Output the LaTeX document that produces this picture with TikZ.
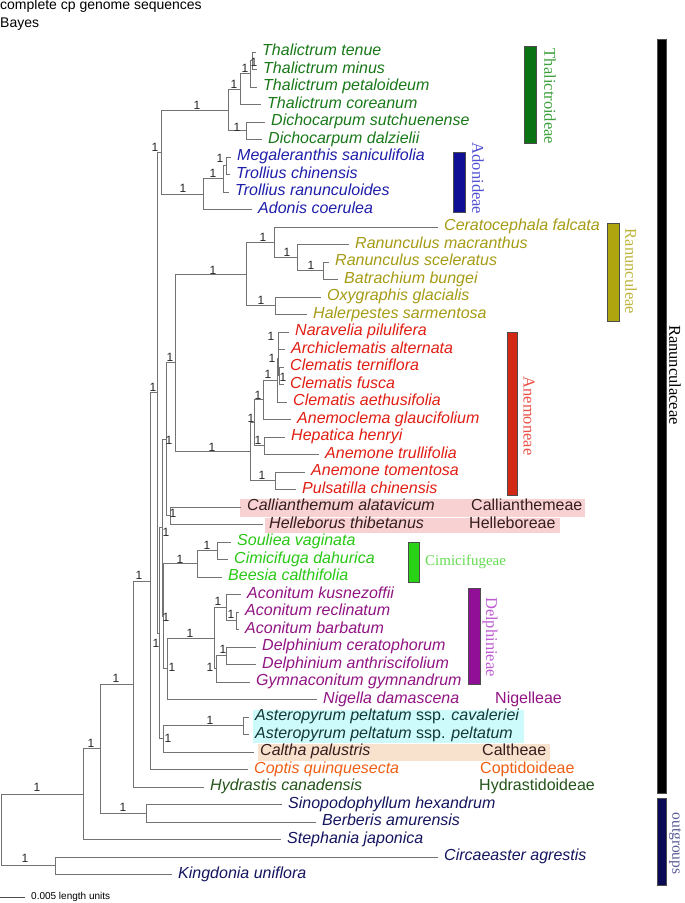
\documentclass[tikz,border=0pt]{standalone}
\usepackage{fontspec}
\setmainfont{Liberation Sans}
\newfontfamily\serifface{Liberation Serif}
\usepackage{tikz}
\usetikzlibrary{positioning}
\usepackage{xcolor}
\newcommand{\taxfont}{\fontsize{16}{16}\selectfont\itshape}
\newcommand{\grpfont}{\fontsize{16}{16}\selectfont}
\newcommand{\cladefont}{\serifface\fontsize{16.5}{16.5}\selectfont}
\definecolor{thalc}{RGB}{25,120,25}
\definecolor{adonc}{RGB}{30,30,170}
\definecolor{ranuc}{RGB}{165,155,20}
\definecolor{anemc}{RGB}{225,30,20}
\definecolor{hellc}{RGB}{55,30,30}
\definecolor{cimic}{RGB}{40,200,20}
\definecolor{delpc}{RGB}{145,20,130}
\definecolor{astec}{RGB}{20,55,55}
\definecolor{coptc}{RGB}{240,95,20}
\definecolor{hydrc}{RGB}{35,85,25}
\definecolor{outgc}{RGB}{20,20,95}

\begin{document}
\begin{tikzpicture}[x=1pt, y=-1pt,
  br/.style={draw=black!55, line width=0.9pt},
  leaf/.style={anchor=west, inner xsep=6pt, inner ysep=0pt, text height=10pt, text depth=3pt, font=\taxfont},
  grp/.style={anchor=west, inner sep=0pt, text height=10pt, text depth=3pt, font=\grpfont},
  sup/.style={inner sep=0pt, font=\fontsize{12}{12}\selectfont, text=black!85},
  bar/.style={draw=black!70, line width=0.8pt},
  clade/.style={rotate=-90, inner sep=0pt, font=\cladefont}]
\useasboundingbox (0,0) rectangle (685,903);
\node[anchor=west, inner sep=0pt, font=\fontsize{14}{14}\selectfont] (title) at (0,6) {complete cp genome sequences};
\node[anchor=west, inner sep=0pt, font=\fontsize{14}{14}\selectfont] (method) at (0,24) {Bayes};

\fill[fill={rgb,255:red,248;green,210;blue,210}] (240,498.5) rectangle (585,516.5);
\fill[fill={rgb,255:red,248;green,210;blue,210}] (265,517.5) rectangle (560,533);
\fill[fill={rgb,255:red,205;green,250;blue,250}] (253,710) rectangle (524,743);
\fill[fill={rgb,255:red,248;green,225;blue,205}] (258,744) rectangle (550,761);

\node[leaf, text=thalc] (Ttenue) at (256,52) {Thalictrum tenue};
\node[leaf, text=thalc] (Tminus) at (257,69.5) {Thalictrum minus};
\node[leaf, text=thalc] (Tpetal) at (257,87) {Thalictrum petaloideum};
\node[leaf, text=thalc] (Tcorea) at (261,104.5) {Thalictrum coreanum};
\node[leaf, text=thalc] (Dsutch) at (265,122) {Dichocarpum sutchuenense};
\node[leaf, text=thalc] (Ddalz) at (262,139.5) {Dichocarpum dalzielii};
\node[leaf, text=adonc] (Msanic) at (231,157) {Megaleranthis saniculifolia};
\node[leaf, text=adonc] (Tchin) at (230,174.5) {Trollius chinensis};
\node[leaf, text=adonc] (Tranun) at (229,192) {Trollius ranunculoides};
\node[leaf, text=adonc] (Acoer) at (252,209.5) {Adonis coerulea};
\node[leaf, text=ranuc] (Cfalc) at (438,227) {Ceratocephala falcata};
\node[leaf, text=ranuc] (Rmacr) at (349,244.5) {Ranunculus macranthus};
\node[leaf, text=ranuc] (Rscel) at (329,262) {Ranunculus sceleratus};
\node[leaf, text=ranuc] (Bbung) at (338,279.5) {Batrachium bungei};
\node[leaf, text=ranuc] (Oglac) at (321,297) {Oxygraphis glacialis};
\node[leaf, text=ranuc] (Hsarm) at (307,314.5) {Halerpestes sarmentosa};
\node[leaf, text=anemc] (Npilu) at (289,332) {Naravelia pilulifera};
\node[leaf, text=anemc] (Aalte) at (285,349.5) {Archiclematis alternata};
\node[leaf, text=anemc] (Ctern) at (284,367) {Clematis terniflora};
\node[leaf, text=anemc] (Cfusc) at (284,384.5) {Clematis fusca};
\node[leaf, text=anemc] (Caeth) at (287,402) {Clematis aethusifolia};
\node[leaf, text=anemc] (Aglau) at (291,419.5) {Anemoclema glaucifolium};
\node[leaf, text=anemc] (Hhenr) at (285,437) {Hepatica henryi};
\node[leaf, text=anemc] (Atrul) at (319,454.5) {Anemone trullifolia};
\node[leaf, text=anemc] (Atome) at (305,472) {Anemone tomentosa};
\node[leaf, text=anemc] (Pchin) at (296,489.5) {Pulsatilla chinensis};
\node[leaf, text=hellc] (Calat) at (241,507) {Callianthemum alatavicum};
\node[leaf, text=hellc] (Hthib) at (263,524.5) {Helleborus thibetanus};
\node[leaf, text=cimic] (Svagi) at (231,542) {Souliea vaginata};
\node[leaf, text=cimic] (Cdahu) at (228,559.5) {Cimicifuga dahurica};
\node[leaf, text=cimic] (Bcalt) at (222,577) {Beesia calthifolia};
\node[leaf, text=delpc] (Akusn) at (241,594.5) {Aconitum kusnezoffii};
\node[leaf, text=delpc] (Arecl) at (239,612) {Aconitum reclinatum};
\node[leaf, text=delpc] (Abarb) at (239,629.5) {Aconitum barbatum};
\node[leaf, text=delpc] (Dcera) at (256,647) {Delphinium ceratophorum};
\node[leaf, text=delpc] (Danth) at (256,664.5) {Delphinium anthriscifolium};
\node[leaf, text=delpc] (Ggymn) at (250,682) {Gymnaconitum gymnandrum};
\node[leaf, text=delpc] (Ndama) at (317,699.5) {Nigella damascena};
\node[leaf, text=astec] (Acava) at (249,717) {Asteropyrum peltatum \textup{ssp.} cavaleriei};
\node[leaf, text=astec] (Apelt) at (249,734.5) {Asteropyrum peltatum \textup{ssp.} peltatum};
\node[leaf, text=hellc] (Cpalu) at (254,752) {Caltha palustris};
\node[leaf, text=coptc] (Cquin) at (248,769.5) {Coptis quinquesecta};
\node[leaf, text=hydrc] (Hcana) at (204,787) {Hydrastis canadensis};
\node[leaf, text=outgc] (Shexa) at (282,804.5) {Sinopodophyllum hexandrum};
\node[leaf, text=outgc] (Bamur) at (316,822) {Berberis amurensis};
\node[leaf, text=outgc] (Sjapo) at (281,839.5) {Stephania japonica};
\node[leaf, text=outgc] (Cagre) at (438,857) {Circaeaster agrestis};
\node[leaf, text=outgc] (Kunif) at (172,874.5) {Kingdonia uniflora};

\coordinate (root) at (1,829.9);
\coordinate (nOut) at (55,865.75);
\coordinate (nIn) at (83,794);
\coordinate (nTwo) at (100,748.6);
\coordinate (nBerb) at (146,813.25);
\coordinate (nRanc) at (133,684);
\coordinate (nCopt) at (150,581.1);
\coordinate (nCore) at (157,392.7);
\coordinate (nThAd) at (161,152.1);
\coordinate (nThal) at (228,110);
\coordinate (nThA) at (240,89.2);
\coordinate (nTh3) at (250,73.9);
\coordinate (nTh2) at (252,60.75);
\coordinate (nDich) at (246,130.75);
\coordinate (nAdon) at (203,194.2);
\coordinate (nTrol) at (223,178.9);
\coordinate (nMeg) at (226,165.75);
\coordinate (nBack) at (159.5,633.4);
\coordinate (nQ) at (162,527.85);
\coordinate (nX) at (166,439.3);
\coordinate (nRaAn) at (175,362.9);
\coordinate (nRanu) at (246,274);
\coordinate (nU) at (274,242.3);
\coordinate (nV) at (297,257.6);
\coordinate (nW) at (323,270.75);
\coordinate (nOH) at (275,305.75);
\coordinate (nAnem) at (250,451.8);
\coordinate (nE) at (254,422.8);
\coordinate (nG) at (263,399.8);
\coordinate (nC1) at (277.5,380.1);
\coordinate (nC2) at (278,358.25);
\coordinate (nNA) at (278.5,340.75);
\coordinate (nTF) at (279,375.75);
\coordinate (nH) at (264,445.75);
\coordinate (nTP) at (275,480.75);
\coordinate (nCH) at (170,515.75);
\coordinate (nP) at (163,616.4);
\coordinate (nCimi) at (197,563.9);
\coordinate (nSC) at (217,550.75);
\coordinate (nDN) at (167,668.9);
\coordinate (nDelp) at (214,638.25);
\coordinate (nAcon) at (226,607.6);
\coordinate (nRB) at (236,620.75);
\coordinate (nDG) at (216,668.9);
\coordinate (nCA) at (226,655.75);
\coordinate (nAC) at (163,738.9);
\coordinate (nAst) at (243,725.75);

\draw[br] (root) |- (nIn) (root) |- (nOut);
\draw[br] (nOut) |- (Cagre.west) (nOut) |- (Kunif.west);
\draw[br] (nIn) |- (nTwo) (nIn) |- (Sjapo.west);
\draw[br] (nTwo) |- (nRanc) (nTwo) |- (nBerb);
\draw[br] (nBerb) |- (Shexa.west) (nBerb) |- (Bamur.west);
\draw[br] (nRanc) |- (nCopt) (nRanc) |- (Hcana.west);
\draw[br] (nCopt) |- (nCore) (nCopt) |- (Cquin.west);
\draw[br] (nCore) |- (nThAd) (nCore) |- (nBack);
\draw[br] (nThAd) |- (nThal) (nThAd) |- (nAdon);
\draw[br] (nThal) |- (nThA) (nThal) |- (nDich);
\draw[br] (nThA) |- (nTh3) (nThA) |- (Tcorea.west);
\draw[br] (nTh3) |- (nTh2) (nTh3) |- (Tpetal.west);
\draw[br] (nTh2) |- (Ttenue.west) (nTh2) |- (Tminus.west);
\draw[br] (nDich) |- (Dsutch.west) (nDich) |- (Ddalz.west);
\draw[br] (nAdon) |- (nTrol) (nAdon) |- (Acoer.west);
\draw[br] (nTrol) |- (nMeg) (nTrol) |- (Tranun.west);
\draw[br] (nMeg) |- (Msanic.west) (nMeg) |- (Tchin.west);
\draw[br] (nBack) |- (nQ) (nBack) |- (nAC);
\draw[br] (nQ) |- (nX) (nQ) |- (nP);
\draw[br] (nX) |- (nRaAn) (nX) |- (nCH);
\draw[br] (nRaAn) |- (nRanu) (nRaAn) |- (nAnem);
\draw[br] (nRanu) |- (nU) (nRanu) |- (nOH);
\draw[br] (nU) |- (Cfalc.west) (nU) |- (nV);
\draw[br] (nV) |- (Rmacr.west) (nV) |- (nW);
\draw[br] (nW) |- (Rscel.west) (nW) |- (Bbung.west);
\draw[br] (nOH) |- (Oglac.west) (nOH) |- (Hsarm.west);
\draw[br] (nAnem) |- (nE) (nAnem) |- (nTP);
\draw[br] (nE) |- (nG) (nE) |- (nH);
\draw[br] (nG) |- (nC1) (nG) |- (Aglau.west);
\draw[br] (nC1) |- (nC2) (nC1) |- (Caeth.west);
\draw[br] (nC2) |- (nNA) (nC2) |- (nTF);
\draw[br] (nNA) |- (Npilu.west) (nNA) |- (Aalte.west);
\draw[br] (nTF) |- (Ctern.west) (nTF) |- (Cfusc.west);
\draw[br] (nH) |- (Hhenr.west) (nH) |- (Atrul.west);
\draw[br] (nTP) |- (Atome.west) (nTP) |- (Pchin.west);
\draw[br] (nCH) |- (Calat.west) (nCH) |- (Hthib.west);
\draw[br] (nP) |- (nCimi) (nP) |- (nDN);
\draw[br] (nCimi) |- (nSC) (nCimi) |- (Bcalt.west);
\draw[br] (nSC) |- (Svagi.west) (nSC) |- (Cdahu.west);
\draw[br] (nDN) |- (nDelp) (nDN) |- (Ndama.west);
\draw[br] (nDelp) |- (nAcon) (nDelp) |- (nDG);
\draw[br] (nAcon) |- (Akusn.west) (nAcon) |- (nRB);
\draw[br] (nRB) |- (Arecl.west) (nRB) |- (Abarb.west);
\draw[br] (nDG) |- (nCA) (nDG) |- (Ggymn.west);
\draw[br] (nCA) |- (Dcera.west) (nCA) |- (Danth.west);
\draw[br] (nAC) |- (nAst) (nAC) |- (Cpalu.west);
\draw[br] (nAst) |- (Acava.west) (nAst) |- (Apelt.west);

\node[sup] (bIn) at (37,787) {1};
\node[sup] (bOut) at (25,858) {1};
\node[sup] (bTwo) at (91,743) {1};
\node[sup] (bRanc) at (116,678) {1};
\node[sup] (bBerb) at (123,807) {1};
\node[sup] (bCopt) at (139,575) {1};
\node[sup] (bCore) at (153,387) {1};
\node[sup] (bThAd) at (155,147) {1};
\node[sup] (bThal) at (197,105) {1};
\node[sup] (bThA) at (234,84) {1};
\node[sup] (bTh3) at (245,68) {1};
\node[sup] (bTh2) at (254,62) {1};
\node[sup] (bDich) at (237,127) {1};
\node[sup] (bAdon) at (183,188) {1};
\node[sup] (bTrol) at (213,173) {1};
\node[sup] (bMeg) at (220,158) {1};
\node[sup] (bRaAn) at (170,357) {1};
\node[sup] (bRanu) at (213,270) {1};
\node[sup] (bU) at (263,237) {1};
\node[sup] (bV) at (287,252) {1};
\node[sup] (bW) at (311,265) {1};
\node[sup] (bOH) at (261,300) {1};
\node[sup] (bAnem) at (212,447) {1};
\node[sup] (bE) at (251,418) {1};
\node[sup] (bG) at (258,395) {1};
\node[sup] (bC1) at (268,374) {1};
\node[sup] (bC2) at (272,358) {1};
\node[sup] (bNA) at (271,336) {1};
\node[sup] (bTF) at (283,377) {1};
\node[sup] (bH) at (258,440) {1};
\node[sup] (bTP) at (262,475) {1};
\node[sup] (bX) at (169,440) {1};
\node[sup] (bCH) at (173,513) {1};
\node[sup] (bQ) at (166,532) {1};
\node[sup] (bP) at (166,617) {1};
\node[sup] (bCimi) at (180,559) {1};
\node[sup] (bSC) at (207,545) {1};
\node[sup] (bDN) at (172,667) {1};
\node[sup] (bDelp) at (190,633) {1};
\node[sup] (bAcon) at (218,601) {1};
\node[sup] (bRB) at (231,614) {1};
\node[sup] (bDG) at (210,667) {1};
\node[sup] (bCA) at (223,649) {1};
\node[sup] (bBack) at (156,643) {1};
\node[sup] (bAC) at (168,738) {1};
\node[sup] (bAst) at (210,720) {1};

\node[grp, text=hellc] (gCall) at (471,507) {Callianthemeae};
\node[grp, text=hellc] (gHell) at (469,524.5) {Helleboreae};
\node[grp, text=delpc] (gNige) at (495,699.5) {Nigelleae};
\node[grp, text=hellc] (gCalt) at (482,752) {Caltheae};
\node[grp, text=coptc] (gCopt) at (480,769.5) {Coptidoideae};
\node[grp, text=hydrc] (gHydr) at (479,787) {Hydrastidoideae};

\draw[bar, fill={rgb,255:red,10;green,115;blue,20}] (524,46) rectangle (536,143);
\node[clade, text={rgb,255:red,60;green,160;blue,60}] (lThal) at (550,96.5) {Thalictroideae};
\draw[bar, fill={rgb,255:red,15;green,15;blue,150}] (453,152) rectangle (465,212);
\node[clade, text={rgb,255:red,80;green,80;blue,210}] (lAdon) at (478,178.5) {Adonideae};
\draw[bar, fill={rgb,255:red,175;green,165;blue,15}] (607,223) rectangle (619,321);
\node[clade, text={rgb,255:red,190;green,180;blue,60}] (lRanu) at (631,271.5) {Ranunculeae};
\draw[bar, fill={rgb,255:red,210;green,40;blue,20}] (507,332) rectangle (517,495);
\node[clade, text={rgb,255:red,235;green,80;blue,70}] (lAnem) at (529,416) {Anemoneae};
\draw[bar, fill={rgb,255:red,40;green,210;blue,20}] (408,542) rectangle (419,582);
\node[anchor=west, inner sep=0pt, font=\serifface\fontsize{15}{15}\selectfont, text={rgb,255:red,100;green,220;blue,80}] (lCimi) at (425,562) {Cimicifugeae};
\draw[bar, fill={rgb,255:red,145;green,15;blue,150}] (468,588) rectangle (480,684);
\node[clade, text={rgb,255:red,190;green,90;blue,210}] (lDelp) at (490,637) {Delphinieae};
\draw[bar, fill=black] (657,39) rectangle (666,793);
\node[clade, text=black, font=\serifface\fontsize{16.5}{16.5}\selectfont] (lFami) at (675,375) {Ranunculaceae};
\draw[bar, fill={rgb,255:red,10;green,10;blue,85}] (657,798) rectangle (666,885);
\node[clade, text={rgb,255:red,90;green,90;blue,150}, font=\serifface\fontsize{15.5}{15.5}\selectfont] (lOutg) at (675,843.5) {outgroups};

\coordinate (sb0) at (0,897);
\coordinate (sb1) at (25,897);
\draw[black!70, line width=0.7pt] (sb0) -- (sb1);
\node[anchor=west, inner sep=0pt, font=\fontsize{10}{10}\selectfont] (scale) at (31,897) {0.005 length units};
\end{tikzpicture}
\end{document}
